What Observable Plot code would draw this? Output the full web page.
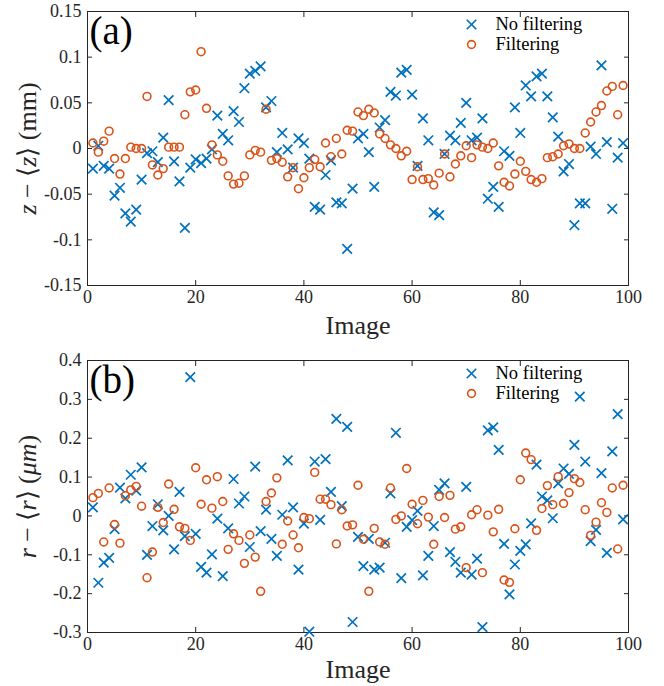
<!DOCTYPE html>
<html>
<head>
<meta charset="utf-8">
<script src="https://cdn.jsdelivr.net/npm/d3@7"></script>
<script src="https://cdn.jsdelivr.net/npm/@observablehq/plot@0.6"></script>
<style>
  html, body { margin: 0; padding: 0; background: #fff; font-family: "Liberation Serif", serif; }
  #chart { width: 664px; height: 686px; overflow: hidden; }
  #chart svg { display: block; }
</style>
</head>
<body>
<div id="chart"></div>
<script>
// ---------- data ----------
const images = d3.range(1, 100); // image index 1..99

const zNoFilter = [
  -0.022, 0.003, -0.019, -0.022, -0.0515, -0.043, -0.071, -0.080, -0.067, -0.034,
  -0.005, -0.003, -0.015, 0.012, 0.053, -0.014, -0.036, -0.087, -0.021, -0.012,
  -0.016, -0.011, -0.001, 0.036, 0.016, 0.009, 0.041, 0.029, 0.066, 0.082,
  0.085, 0.090, 0.045, 0.052, -0.004, 0.017, -0.001, -0.021, 0.011, 0.006,
  -0.011, -0.064, -0.067, -0.029, -0.013, -0.059, -0.060, -0.110, -0.044, 0.011,
  0.016, -0.004, -0.042, 0.023, 0.031, 0.062, 0.058, 0.083, 0.086, 0.059,
  -0.019, 0.033, 0.009, -0.070, -0.073, -0.006, 0.014, 0.009, 0.028, 0.050,
  0.009, 0.012, 0.033, -0.055, -0.042, -0.064, -0.003, -0.008, 0.045, 0.017,
  0.069, 0.057, 0.079, 0.082, 0.057, 0.034, 0.013, -0.025, -0.017, -0.084,
  -0.060, -0.060, 0.002, -0.006, 0.091, 0.007, -0.066, -0.010, 0.006
];
const zFilter = [
  0.006, -0.004, 0.008, 0.019, -0.011, -0.028, -0.011, 0.0015, 0.000, 0.000,
  0.057, -0.018, -0.029, -0.022, 0.0015, 0.0015, 0.0015, 0.037, 0.062, 0.064,
  0.106, 0.044, 0.004, -0.007, -0.014, -0.030, -0.039, -0.038, -0.030, -0.007,
  -0.002, -0.004, 0.043, -0.013, -0.011, -0.015, -0.031, -0.021, -0.044, -0.032,
  -0.021, -0.012, -0.020, 0.006, -0.009, 0.011, -0.006, 0.020, 0.019, 0.040,
  0.036, 0.043, 0.039, 0.016, 0.011, 0.004, 0.000, -0.008, -0.003, -0.034,
  -0.020, -0.034, -0.033, -0.040, -0.027, -0.006, -0.031, -0.017, -0.008, 0.003,
  -0.010, 0.004, 0.0015, 0.000, 0.006, -0.019, -0.037, -0.041, -0.028, -0.014,
  -0.025, -0.034, -0.037, -0.033, -0.010, -0.009, -0.006, 0.003, 0.005, 0.000,
  0.000, 0.017, 0.029, 0.040, 0.047, 0.063, 0.068, 0.037, 0.069
];
const rNoFilter = [
  0.022, -0.172, -0.120, -0.108, -0.034, 0.073, 0.045, 0.106, 0.065, 0.125,
  -0.100, -0.026, 0.030, -0.037, 0.000, -0.086, 0.062, -0.052, 0.357, -0.046,
  -0.131, -0.146, -0.099, -0.007, -0.155, -0.032, 0.095, 0.032, 0.050, -0.080,
  0.127, -0.039, 0.016, -0.059, -0.103, 0.003, 0.143, 0.022, -0.138, -0.020,
  -0.298, 0.140, -0.010, 0.146, 0.062, 0.250, 0.025, 0.229, -0.273, -0.054,
  -0.129, -0.059, -0.138, -0.133, -0.069, 0.058, 0.214, -0.160, -0.028, -0.011,
  0.013, -0.153, -0.103, -0.026, 0.067, 0.084, -0.093, -0.118, -0.146, 0.075,
  -0.151, -0.110, -0.286, 0.220, 0.228, 0.170, -0.072, -0.202, -0.125, -0.090,
  -0.073, -0.019, 0.132, 0.050, 0.040, -0.006, 0.084, 0.122, 0.108, 0.183,
  0.307, 0.140, -0.065, -0.036, 0.110, -0.095, 0.166, 0.262, -0.009
];
const rFilter = [
  0.047, 0.058, -0.067, 0.072, -0.022, -0.070, 0.052, 0.067, 0.076, 0.025,
  -0.159, -0.093, 0.022, -0.017, 0.082, 0.017, -0.028, -0.032, -0.063, 0.124,
  0.030, 0.093, 0.020, 0.101, 0.037, -0.086, -0.046, -0.063, -0.122, -0.049,
  -0.106, -0.194, 0.037, 0.059, 0.098, -0.073, -0.013, -0.049, -0.082, -0.004,
  -0.007, 0.112, 0.043, 0.043, 0.029, -0.072, 0.016, -0.026, -0.023, 0.079,
  -0.060, -0.194, -0.032, -0.067, -0.073, 0.072, -0.009, 0.000, 0.122, 0.030,
  -0.020, 0.040, -0.003, -0.073, 0.050, -0.004, 0.053, -0.034, -0.028, -0.133,
  0.003, 0.016, -0.146, 0.002, -0.041, 0.017, -0.165, -0.171, -0.033, 0.093,
  0.162, 0.145, -0.037, 0.019, 0.078, 0.029, 0.101, 0.032, 0.060, 0.096,
  0.086, 0.016, -0.050, -0.016, 0.034, 0.009, 0.072, -0.085, 0.079
];

const xTicks = [0, 20, 40, 60, 80, 100];
const zTicks = [-0.15, -0.1, -0.05, 0, 0.05, 0.1, 0.15];
const rTicks = [-0.3, -0.2, -0.1, 0, 0.1, 0.2, 0.3, 0.4];
const seriesNames = ["No filtering", "Filtering"];
const colors = ["#0072BD", "#D95319"];

// ---------- drawing ----------
const FONT = "Liberation Serif";
const INK = "#262626";

function panel({noF, withF, yDomain, yTicks, yLabel, tag, height, marginTop, marginBottom, imageDy}) {
  const blueRows = images.map((x, i) => ({x, y: noF[i]}));
  const orangeRows = images.map((x, i) => ({x, y: withF[i]}));
  const empty = () => "";
  const T = {fontFamily: FONT};
  return Plot.plot({
    width: 664,
    height,
    marginLeft: 87,
    marginRight: 36,
    marginTop,
    marginBottom,
    style: {fontFamily: FONT, fontSize: "18px", color: INK, background: "#fff", overflow: "visible"},
    x: {domain: [0, 100], label: null},
    y: {domain: yDomain, label: null},
    marks: [
      // inward ticks on all four sides
      Plot.axisX({anchor: "bottom", ticks: xTicks, tickSize: -5, tickFormat: empty, label: null, stroke: INK}),
      Plot.axisX({anchor: "top", ticks: xTicks, tickSize: -5, tickFormat: empty, label: null, stroke: INK}),
      Plot.axisY({anchor: "left", ticks: yTicks, tickSize: -5, tickFormat: empty, label: null, stroke: INK}),
      Plot.axisY({anchor: "right", ticks: yTicks, tickSize: -5, tickFormat: empty, label: null, stroke: INK}),
      // tick labels
      Plot.axisX({anchor: "bottom", ticks: xTicks, tickSize: 0, tickPadding: 5, tickFormat: d => String(d), label: null, fill: INK, ...T}),
      Plot.axisY({anchor: "left", ticks: yTicks, tickSize: 0, tickPadding: 6, tickFormat: d => String(d), label: null, fill: INK, ...T}),
      Plot.frame({stroke: INK, strokeWidth: 1}),
      // data
      Plot.dot(blueRows, {x: "x", y: "y", symbol: "times", r: 4.4, stroke: colors[0], strokeWidth: 1.7}),
      Plot.dot(orangeRows, {x: "x", y: "y", symbol: "circle", r: 3.9, stroke: colors[1], strokeWidth: 1.6, fill: "none"}),
      // axis titles
      Plot.text(["Image"], {frameAnchor: "bottom", textAnchor: "middle", lineAnchor: "middle", dy: imageDy, fontSize: 26, fill: INK, ...T}),
      Plot.text([yLabel], {frameAnchor: "left", textAnchor: "middle", lineAnchor: "middle", rotate: -90, dx: -60, fontSize: 26, fill: INK, ...T}),
      // panel tag
      Plot.text([tag], {frameAnchor: "top-left", textAnchor: "start", lineAnchor: "top", dx: 2, dy: 5, fontSize: 39, fill: "#000", ...T}),
      // legend
      Plot.dot([seriesNames[0]], {frameAnchor: "top-right", dx: -157, dy: 13, symbol: "times", r: 4.4, stroke: colors[0], strokeWidth: 1.7}),
      Plot.dot([seriesNames[1]], {frameAnchor: "top-right", dx: -157, dy: 33, symbol: "circle", r: 3.9, stroke: colors[1], strokeWidth: 1.6, fill: "none"}),
      Plot.text([seriesNames[0]], {frameAnchor: "top-right", textAnchor: "start", lineAnchor: "middle", dx: -133, dy: 13, fontSize: 18.5, fill: "#000", ...T}),
      Plot.text([seriesNames[1]], {frameAnchor: "top-right", textAnchor: "start", lineAnchor: "middle", dx: -133, dy: 33, fontSize: 18.5, fill: "#000", ...T})
    ]
  });
}

function italicize(svg, plain, html) {
  svg.querySelectorAll("text").forEach(t => {
    if (t.textContent === plain) t.innerHTML = html;
  });
}

const labelZ = "z − ⟨z⟩ (mm)";
const labelR = "r − ⟨r⟩ (μm)";

const a = panel({
  noF: zNoFilter, withF: zFilter, yDomain: [-0.15, 0.15], yTicks: zTicks,
  yLabel: labelZ, tag: "(a)", height: 343, marginTop: 11, marginBottom: 58, imageDy: 40
});
const b = panel({
  noF: rNoFilter, withF: rFilter, yDomain: [-0.3, 0.4], yTicks: rTicks,
  yLabel: labelR, tag: "(b)", height: 343, marginTop: 17, marginBottom: 54, imageDy: 37
});

italicize(a, labelZ, '<tspan font-style="italic">z</tspan> − ⟨<tspan font-style="italic">z</tspan>⟩ (mm)');
italicize(b, labelR, '<tspan font-style="italic">r</tspan> − ⟨<tspan font-style="italic">r</tspan>⟩ (<tspan font-style="italic">μm</tspan>)');

document.getElementById("chart").append(a, b);
</script>
</body>
</html>
